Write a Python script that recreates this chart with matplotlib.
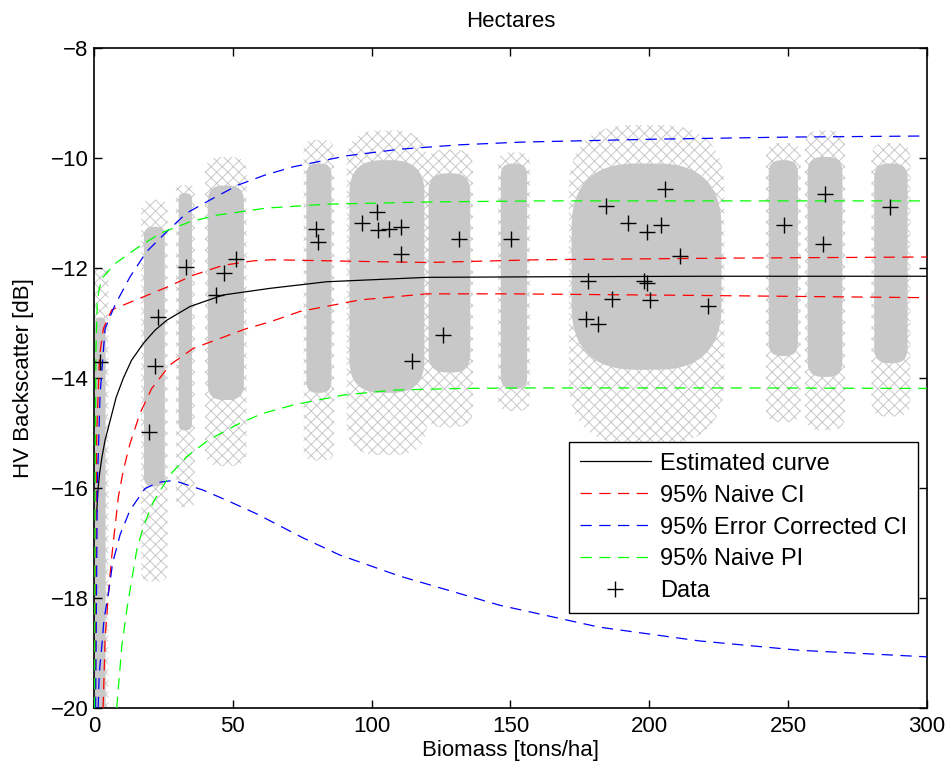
import numpy as np
import matplotlib
matplotlib.use('Agg')
import matplotlib.pyplot as plt
from matplotlib.patches import FancyBboxPatch

plt.rcParams['font.family'] = ['Liberation Sans', 'DejaVu Sans']
plt.rcParams['font.size'] = 16
plt.rcParams['hatch.linewidth'] = 0.7

# curva estimada
est_x = [1.0, 1.5, 2.0, 2.8, 4.0, 5.8, 8.0, 10.6, 13.5, 17.8, 22.0, 26.2, 34.6, 46.6, 63.4,
         83.8, 120, 160, 220, 300]
est_y = [-16.43, -16.0, -15.75, -15.46, -15.13, -14.78, -14.35, -14.0, -13.68, -13.37, -13.13,
         -12.95, -12.70, -12.49, -12.37, -12.25, -12.17, -12.16, -12.15, -12.15]

# IC ingenuo 95% (vermelho)
ciu_x = [0.4, 1.0, 2.0, 3.4, 6.4, 16.6, 26.2, 35.8, 46.6, 57.4, 64, 95.8, 120, 160, 230, 300]
ciu_y = [-20, -15.0, -13.6, -13.1, -12.76, -12.55, -12.35, -12.13, -11.95, -11.87, -11.85,
         -11.88, -11.90, -11.85, -11.82, -11.80]
cil_x = [3.3, 4.0, 5.2, 6.4, 7.6, 8.8, 10.6, 13.0, 16.6, 20.8, 27.4, 35.8, 45.4, 55, 63.4, 74.2,
         95.8, 120, 150, 220, 300]
cil_y = [-20, -18.76, -17.91, -17.25, -16.70, -16.16, -15.67, -15.19, -14.64, -14.19, -13.76,
         -13.46, -13.28, -13.10, -12.98, -12.79, -12.58, -12.47, -12.47, -12.50, -12.54]

# IC corrigido 95% (azul)
ebu_x = [0.6, 1.2, 2.2, 4.0, 7.6, 13, 19, 26.2, 33.4, 43, 52, 61.6, 71.8, 91, 110.2, 131.8,
         154.6, 200, 250, 300]
ebu_y = [-20, -16.0, -14.3, -13.10, -12.67, -12.16, -11.70, -11.34, -11.0, -10.73, -10.49,
         -10.31, -10.16, -9.96, -9.84, -9.76, -9.71, -9.66, -9.62, -9.60]
ebl_x = [1.5, 1.9, 2.8, 3.6, 5.2, 6.7, 9.4, 13, 18.4, 23, 27.4, 30.4, 39.4, 49, 58.6, 75.4,
         88.6, 110, 146, 182, 218, 254, 300]
ebl_y = [-20, -19.37, -18.89, -18.4, -17.92, -17.37, -16.85, -16.4, -16.01, -15.9, -15.87,
         -15.89, -16.04, -16.25, -16.47, -16.91, -17.22, -17.6, -18.13, -18.53, -18.78, -18.95, -19.07]

# IP ingenuo 95% (verde)
piu_x = [0.2, 0.4, 0.7, 1.2, 2.0, 3.4, 7.6, 15.4, 23.8, 34.6, 44.2, 62.2, 83.8, 119.8, 160, 300]
piu_y = [-20, -16, -13.5, -12.6, -12.35, -12.16, -11.92, -11.64, -11.37, -11.16, -11.04,
         -10.91, -10.84, -10.80, -10.78, -10.78]
pil_x = [8.2, 10, 11.8, 13.6, 15.4, 17.8, 21.4, 27.4, 33.4, 41.2, 51.4, 60.4, 71.8, 89.8,
         107.8, 131.8, 155.8, 230, 300]
pil_y = [-20, -18.89, -18.22, -17.67, -17.13, -16.70, -16.25, -15.76, -15.43, -15.13, -14.85,
         -14.65, -14.49, -14.31, -14.22, -14.19, -14.18, -14.18, -14.19]

# dados (+)
data_x = [2.2, 22.9, 22.0, 19.9, 33.0, 43.8, 46.9, 51.0, 79.9, 80.5, 96.7, 102.1, 102.4, 106.3,
          110.4, 110.4, 114.6, 125.8, 131.5, 150.2, 205.6, 184.4, 192.4, 199.0, 204.1, 211.0,
          178.0, 198.2, 199.0, 186.4, 200.2, 221.2, 177.2, 181.6, 248.6, 263.2, 262.6, 286.6]
data_y = [-13.71, -12.90, -13.78, -14.98, -11.99, -12.50, -12.10, -11.84, -11.30, -11.53, -11.18,
          -10.98, -11.31, -11.29, -11.25, -11.75, -13.69, -13.22, -11.47, -11.48, -10.57, -10.88,
          -11.19, -11.34, -11.21, -11.79, -12.23, -12.23, -12.28, -12.57, -12.58, -12.70, -12.92,
          -13.01, -11.22, -10.65, -11.57, -10.89]

# faixas cinzas (nuvem de pontos simulados)
band_left = [0.4, 18, 30.5, 41, 76.5, 92, 120.5, 146.5, 172, 243, 257, 281]
band_right = [4.2, 25.5, 35.3, 54, 85.5, 119, 135.5, 156, 226, 253.5, 269.5, 293]
core_top = [-12.9, -11.25, -10.64, -10.5, -10.1, -10.04, -10.28, -10.1, -10.1, -10.04, -9.98, -10.1]
core_bottom = [-20, -15.97, -14.95, -14.4, -14.27, -14.27, -13.9, -14.2, -13.85, -13.6, -13.98, -13.73]
halo_top = [-12.0, -10.76, -10.49, -9.98, -9.67, -9.5, -9.85, -9.9, -9.4, -9.73, -9.5, -9.73]
halo_bottom = [-20, -17.7, -16.35, -15.6, -15.5, -15.4, -14.9, -14.6, -15.2, -14.8, -14.95, -14.7]

fig = plt.figure(figsize=(9.51, 7.69), dpi=100)
ax = fig.add_axes([0.0988, 0.0793, 0.876, 0.8583])
ax.set_xlim(0, 300)
ax.set_ylim(-20, -8)

# razao de aspecto para arredondar as faixas
W = 0.876 * 951
H = 0.8583 * 769
asp = (12 / H) / (300 / W)
gray = '#c8c8c8'
for i in range(len(band_left)):
    w = band_right[i] - band_left[i]
    r = w / 2 * 0.85
    halo = FancyBboxPatch((band_left[i] - 1, halo_bottom[i]), w + 2, halo_top[i] - halo_bottom[i],
                          boxstyle=f"round,pad=0,rounding_size={r}", mutation_aspect=asp,
                          facecolor='none', edgecolor=gray, hatch='xxx', linewidth=0, zorder=1)
    ax.add_patch(halo)
    core = FancyBboxPatch((band_left[i], core_bottom[i]), w, core_top[i] - core_bottom[i],
                          boxstyle=f"round,pad=0,rounding_size={r}", mutation_aspect=asp,
                          facecolor=gray, edgecolor='none', zorder=1.5)
    ax.add_patch(core)

dash = (0, (9, 6))
lw = 0.9
ax.plot(est_x, est_y, color='k', lw=lw, label='Estimated curve', zorder=3)
ax.plot(ciu_x, ciu_y, color='r', lw=lw, linestyle=dash, label='95% Naive CI', zorder=3)
ax.plot(cil_x, cil_y, color='r', lw=lw, linestyle=dash, zorder=3)
ax.plot(ebu_x, ebu_y, color='b', lw=lw, linestyle=dash, label='95% Error Corrected CI', zorder=3)
ax.plot(ebl_x, ebl_y, color='b', lw=lw, linestyle=dash, zorder=3)
ax.plot(piu_x, piu_y, color=(0, 1, 0), lw=lw, linestyle=dash, label='95% Naive PI', zorder=3)
ax.plot(pil_x, pil_y, color=(0, 1, 0), lw=lw, linestyle=dash, zorder=3)
ax.plot(data_x, data_y, '+', color='k', markersize=11, markeredgewidth=1.0, label='Data', zorder=4)

ax.set_xticks([0, 50, 100, 150, 200, 250, 300])
ax.set_yticks([-20, -18, -16, -14, -12, -10, -8])
ax.tick_params(direction='in', top=True, right=True, length=6, width=1, labelsize=16)
ax.tick_params(axis='x', pad=6)
ax.tick_params(axis='y', pad=4)
for s in ax.spines.values():
    s.set_linewidth(1.2)

ax.set_title('Hectares', fontsize=16, pad=15)
ax.set_xlabel('Biomass [tons/ha]', fontsize=16, labelpad=2)
ax.set_ylabel('HV Backscatter [dB]', fontsize=16, labelpad=12)

leg = ax.legend(loc='lower right', bbox_to_anchor=(0.989, 0.144), borderaxespad=0,
                fancybox=False, edgecolor='k', framealpha=1, fontsize=17,
                handlelength=3.0, handletextpad=0.4, labelspacing=0.42, borderpad=0.45)
leg.get_frame().set_linewidth(1.0)

fig.savefig('out.png', dpi=100)
